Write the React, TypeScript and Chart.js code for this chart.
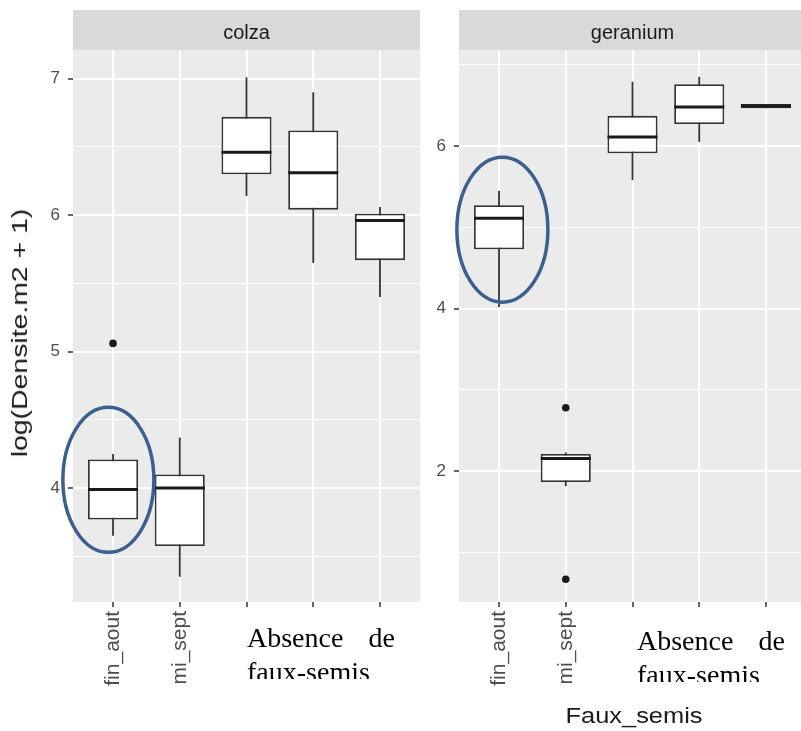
import React, { useEffect, useRef } from "react";
import { Chart, registerables } from "chart.js";
Chart.register(...registerables);

// ---------------- data ----------------
const tickLabels = ["fin_aout", "mi_sept", "", "", ""]; // last three labels are covered by the note

// colza facet
const colzaLow = [3.65, 3.35, 6.14, 5.65, 5.4];
const colzaQ1 = [3.77, 3.575, 6.3, 6.04, 5.67];
const colzaMedian = [3.99, 4.0, 6.46, 6.31, 5.96];
const colzaQ3 = [4.21, 4.1, 6.72, 6.62, 6.01];
const colzaHigh = [4.25, 4.37, 7.01, 6.9, 6.06];
const colzaOutlierCat = [0];
const colzaOutlierVal = [5.06];
const colzaTicks = [4, 5, 6, 7];
const colzaMinorTicks = [3.5, 4.5, 5.5, 6.5];
const colzaRange = [3.165, 7.21];

// geranium facet
const geraniumLow = [4.02, 1.815, 5.58, 6.05, 6.465];
const geraniumQ1 = [4.73, 1.865, 5.91, 6.27, 6.465];
const geraniumMedian = [5.11, 2.156, 6.11, 6.48, 6.49];
const geraniumQ3 = [5.27, 2.21, 6.37, 6.76, 6.515];
const geraniumHigh = [5.45, 2.23, 6.79, 6.85, 6.515];
const geraniumOutlierCat = [1, 1];
const geraniumOutlierVal = [2.78, 0.67];
const geraniumTicks = [2, 4, 6];
const geraniumMinorTicks = [1, 3, 5, 7];
const geraniumRange = [0.39, 7.18];

// highlighted groups (category position, value)
const colzaHighlight = [-0.07, 4.06];
const geraniumHighlight = [0.05, 4.97];

// ---------------- chart factory ----------------
type FacetCfg = {
  strip: string;
  low: number[];
  q1: number[];
  med: number[];
  q3: number[];
  high: number[];
  outCat: number[];
  outVal: number[];
  majors: number[];
  minors: number[];
  range: number[];
  highlight: number[];
  yAxisWidth: number;
  padRight: number;
};

function buildChart(canvas: HTMLCanvasElement, f: FacetCfg) {
  const boxPlugin = {
    id: "boxplot-" + f.strip,
    beforeDraw(chart: any) {
      const { ctx, chartArea: a } = chart;
      ctx.save();
      ctx.fillStyle = "#ebebeb";
      ctx.fillRect(a.left, a.top, a.right - a.left, a.bottom - a.top);
      ctx.fillStyle = "#d9d9d9";
      ctx.fillRect(a.left, 10, a.right - a.left, a.top - 10);
      ctx.fillStyle = "#1a1a1a";
      ctx.font = '20px "Liberation Sans", Arial, sans-serif';
      ctx.textAlign = "center";
      ctx.textBaseline = "alphabetic";
      ctx.fillText(f.strip, (a.left + a.right) / 2, 39);
      ctx.restore();
    },
    beforeDatasetsDraw(chart: any) {
      const { ctx } = chart;
      const x = chart.scales.x;
      const y = chart.scales.y;
      ctx.save();
      ctx.strokeStyle = "#333333";
      ctx.lineWidth = 1.8;
      f.low.forEach((lo, i) => {
        const px = x.getPixelForValue(i);
        ctx.beginPath();
        ctx.moveTo(px, y.getPixelForValue(lo));
        ctx.lineTo(px, y.getPixelForValue(f.high[i]));
        ctx.stroke();
      });
      ctx.restore();
    },
    afterDatasetsDraw(chart: any) {
      const { ctx } = chart;
      const x = chart.scales.x;
      const y = chart.scales.y;
      const meta = chart.getDatasetMeta(0);
      ctx.save();
      ctx.strokeStyle = "#1a1a1a";
      ctx.lineWidth = 3;
      f.med.forEach((m, i) => {
        const px = x.getPixelForValue(i);
        const w = meta.data[i].width;
        const py = y.getPixelForValue(m);
        ctx.beginPath();
        ctx.moveTo(px - w / 2, py);
        ctx.lineTo(px + w / 2, py);
        ctx.stroke();
      });
      ctx.restore();
    },
    afterDraw(chart: any) {
      const { ctx } = chart;
      const x = chart.scales.x;
      const y = chart.scales.y;
      ctx.save();
      ctx.strokeStyle = "#3c5f90";
      ctx.lineWidth = 3.5;
      ctx.beginPath();
      ctx.ellipse(
        x.getPixelForValue(f.highlight[0]),
        y.getPixelForValue(f.highlight[1]),
        45.5,
        72.5,
        0,
        0,
        Math.PI * 2
      );
      ctx.stroke();
      ctx.restore();
    },
  };

  const isMajor = (v: number) => f.majors.includes(v);

  return new Chart(canvas, {
    type: "bar",
    data: {
      datasets: [
        {
          type: "bar",
          data: f.q1.map((q, i) => ({ x: i, y: [q, f.q3[i]] })) as any,
          backgroundColor: "#ffffff",
          borderColor: "#333333",
          borderWidth: 1.8,
          borderSkipped: false,
          barPercentage: 0.75,
          categoryPercentage: 1,
          order: 2,
        },
        {
          type: "scatter",
          data: f.outCat.map((c, i) => ({ x: c, y: f.outVal[i] })) as any,
          backgroundColor: "#1a1a1a",
          borderWidth: 0,
          pointRadius: 3.8,
          order: 1,
        } as any,
      ],
    },
    options: {
      responsive: false,
      animation: false,
      events: [],
      layout: { padding: { top: 50, right: f.padRight, bottom: 0, left: 0 } },
      plugins: { legend: { display: false }, tooltip: { enabled: false }, title: { display: false } },
      scales: {
        x: {
          type: "linear",
          min: -0.6,
          max: 4.6,
          offset: false,
          afterBuildTicks: (s: any) => {
            s.ticks = tickLabels.map((_, i) => ({ value: i }));
          },
          afterFit: (s: any) => {
            s.height = 129;
          },
          ticks: {
            autoSkip: false,
            minRotation: 90,
            maxRotation: 90,
            padding: 4,
            color: "#4d4d4d",
            font: { family: '"Liberation Sans", Arial, sans-serif', size: 21 },
            callback: (v: any) => tickLabels[Math.round(Number(v))] ?? "",
          },
          grid: {
            offset: false,
            color: "#ffffff",
            lineWidth: 2,
            drawTicks: true,
            tickLength: 5,
            tickColor: "#333333",
            tickWidth: 1.5,
          },
          border: { display: false },
        },
        y: {
          type: "linear",
          min: f.range[0],
          max: f.range[1],
          afterBuildTicks: (s: any) => {
            s.ticks = [...f.majors, ...f.minors]
              .filter((v) => v >= f.range[0] && v <= f.range[1])
              .sort((a, b) => a - b)
              .map((v) => ({ value: v }));
          },
          afterFit: (s: any) => {
            s.width = f.yAxisWidth;
          },
          ticks: {
            autoSkip: false,
            padding: 8,
            color: "#4d4d4d",
            font: { family: '"Liberation Sans", Arial, sans-serif', size: 17 },
            callback: (v: any) => (isMajor(Number(v)) ? String(v) : ""),
          },
          grid: {
            color: "#ffffff",
            lineWidth: (c: any) => (c.tick && isMajor(c.tick.value) ? 2 : 1),
            drawTicks: true,
            tickLength: 5,
            tickColor: (c: any) => (c.tick && isMajor(c.tick.value) ? "#333333" : "rgba(0,0,0,0)"),
            tickWidth: 1.5,
          },
          border: { display: false },
        },
      },
    } as any,
    plugins: [boxPlugin],
  });
}

const noteStyle: React.CSSProperties = {
  position: "absolute",
  width: 148,
  height: 58.5,
  overflow: "hidden",
  fontFamily: '"Liberation Serif", "Times New Roman", serif',
  fontSize: 28,
  lineHeight: "34px",
  color: "#000",
};

export default function App() {
  const leftRef = useRef<HTMLCanvasElement>(null);
  const rightRef = useRef<HTMLCanvasElement>(null);

  useEffect(() => {
    const left = buildChart(leftRef.current!, {
      strip: "colza",
      low: colzaLow,
      q1: colzaQ1,
      med: colzaMedian,
      q3: colzaQ3,
      high: colzaHigh,
      outCat: colzaOutlierCat,
      outVal: colzaOutlierVal,
      majors: colzaTicks,
      minors: colzaMinorTicks,
      range: colzaRange,
      highlight: colzaHighlight,
      yAxisWidth: 73,
      padRight: 2,
    });
    const right = buildChart(rightRef.current!, {
      strip: "geranium",
      low: geraniumLow,
      q1: geraniumQ1,
      med: geraniumMedian,
      q3: geraniumQ3,
      high: geraniumHigh,
      outCat: geraniumOutlierCat,
      outVal: geraniumOutlierVal,
      majors: geraniumTicks,
      minors: geraniumMinorTicks,
      range: geraniumRange,
      highlight: geraniumHighlight,
      yAxisWidth: 35,
      padRight: 0,
    });
    return () => {
      left.destroy();
      right.destroy();
    };
  }, []);

  return (
    <div
      style={{
        position: "absolute",
        left: 0,
        top: 0,
        width: 801,
        height: 731,
        overflow: "hidden",
        background: "#ffffff",
      }}
    >
      <canvas ref={leftRef} width={424} height={731} style={{ position: "absolute", left: 0, top: 0 }} />
      <canvas ref={rightRef} width={386} height={731} style={{ position: "absolute", left: 424, top: 0 }} />

      {/* y axis title */}
      <div style={{ position: "absolute", left: 20, top: 333, width: 0, height: 0 }}>
        <span
          style={{
            position: "absolute",
            left: 0,
            top: 0,
            whiteSpace: "nowrap",
            fontFamily: '"Liberation Sans", Arial, sans-serif',
            fontSize: 22,
            lineHeight: 1,
            color: "#1a1a1a",
            transform: "translate(-50%, -50%) rotate(-90deg) scaleX(1.29)",
          }}
        >
          log(Densite.m2 + 1)
        </span>
      </div>

      {/* x axis title */}
      <div style={{ position: "absolute", left: 633.5, top: 715.5, width: 0, height: 0 }}>
        <span
          style={{
            position: "absolute",
            left: 0,
            top: 0,
            whiteSpace: "nowrap",
            fontFamily: '"Liberation Sans", Arial, sans-serif',
            fontSize: 22,
            lineHeight: 1,
            color: "#1a1a1a",
            transform: "translate(-50%, -50%) scaleX(1.155)",
          }}
        >
          Faux_semis
        </span>
      </div>

      {/* notes */}
      <div style={{ ...noteStyle, left: 247, top: 620.5 }}>
        <div style={{ display: "flex", justifyContent: "space-between" }}>
          <span>Absence</span>
          <span>de</span>
        </div>
        <div>faux-semis</div>
      </div>
      <div style={{ ...noteStyle, left: 637, top: 623.5 }}>
        <div style={{ display: "flex", justifyContent: "space-between" }}>
          <span>Absence</span>
          <span>de</span>
        </div>
        <div>faux-semis</div>
      </div>
    </div>
  );
}
